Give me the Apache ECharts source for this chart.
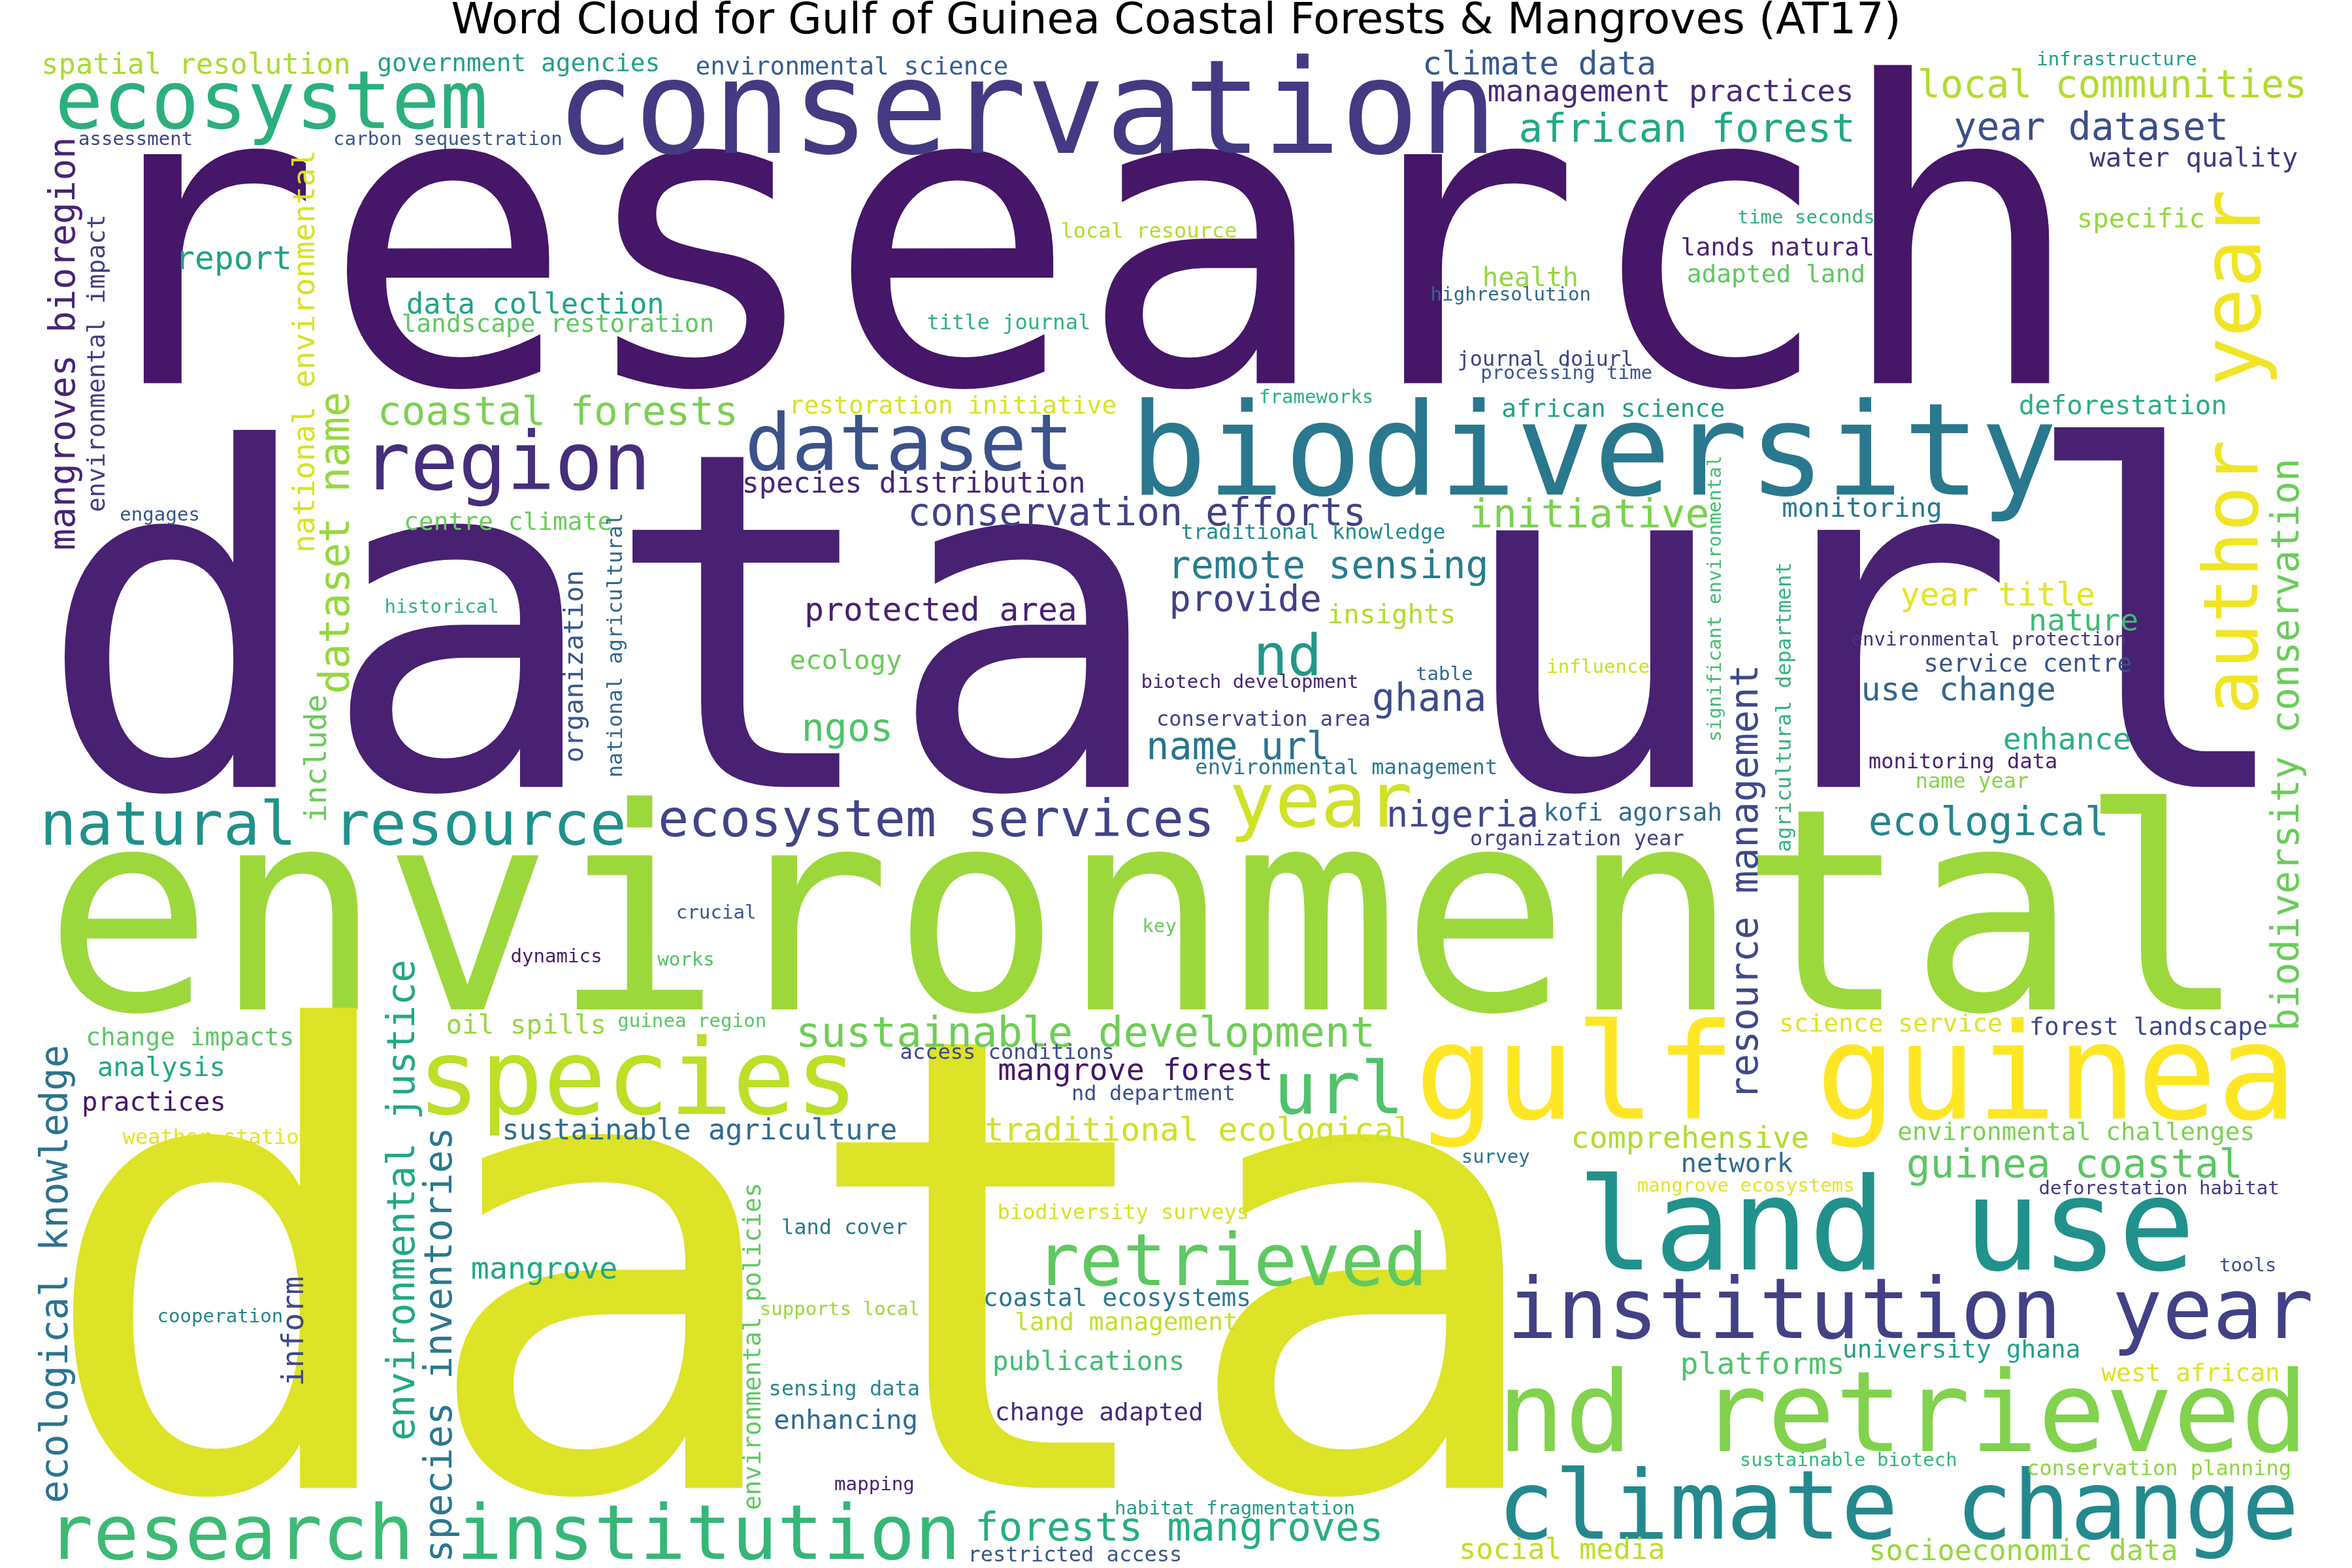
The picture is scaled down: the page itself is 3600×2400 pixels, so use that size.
<!DOCTYPE html>
<html>
<head>
<meta charset="utf-8">
<title>Word Cloud AT17</title>
<script src="https://cdn.jsdelivr.net/npm/echarts@6.0.0/dist/echarts.min.js"></script>
<style>
  html, body { margin: 0; padding: 0; background: #fff; overflow: hidden; }
  #chart { width: 3600px; height: 2400px; }
</style>
</head>
<body>
<div id="chart"></div>
<script>
// terms of the cloud
const words = [
  'research', 'data url', 'environmental', 'data', 'conservation', 'biodiversity', 'gulf guinea', 'land use', 'institution year', 'nd retrieved',
  'climate change', 'species', 'ecosystem', 'region', 'dataset', 'author', 'year', 'year', 'url', 'retrieved',
  'research', 'institution', 'natural resource', 'nd', 'ecosystem services', 'sustainable development', 'coastal forests', 'african forest', 'forests mangroves', 'guinea coastal',
  'ecological', 'dataset name', 'initiative', 'local communities', 'year dataset', 'remote sensing', 'ghana', 'ngos', 'name url', 'conservation efforts',
  'biodiversity conservation', 'resource management', 'environmental justice', 'ecological knowledge', 'species inventories', 'mangroves bioregion', 'provide', 'nigeria', 'year title', 'protected area',
  'report', 'use change', 'climate data', 'traditional ecological', 'nature', 'enhance', 'inform', 'mangrove', 'management practices', 'platforms',
  'comprehensive', 'mangrove forest', 'national environmental', 'include', 'spatial resolution', 'species distribution', 'data collection', 'socioeconomic data', 'social media', 'sustainable agriculture',
  'health', 'specific', 'monitoring', 'oil spills', 'enhancing', 'practices', 'water quality', 'insights', 'ecology', 'analysis',
  'deforestation', 'network', 'organization', 'publications', 'west african', 'centre climate', 'adapted land', 'lands natural', 'kofi agorsah', 'african science',
  'coastal ecosystems', 'change adapted', 'government agencies', 'environmental science', 'landscape restoration', 'restoration initiative', 'environmental challenges', 'university ghana', 'service centre', 'science service',
  'forest landscape', 'change impacts', 'land management', 'environmental impact', 'environmental policies', 'local resource', 'journal doiurl', 'conservation area', 'monitoring data', 'weather station',
  'access conditions', 'sensing data', 'traditional knowledge', 'environmental management', 'organization year', 'name year', 'nd department', 'biodiversity surveys', 'restricted access', 'conservation planning',
  'title journal', 'agricultural department', 'national agricultural', 'land cover', 'key', 'survey', 'works', 'mapping', 'assessment', 'historical',
  'table', 'carbon sequestration', 'highresolution', 'crucial', 'dynamics', 'guinea region', 'cooperation', 'habitat fragmentation', 'sustainable biotech', 'mangrove ecosystems',
  'infrastructure', 'engages', 'processing time', 'biotech development', 'deforestation habitat', 'environmental protection', 'frameworks', 'time seconds', 'tools', 'supports local',
  'significant environmental', 'influence'
];

// word centres on a 1560 x 1040 grid
const xPos = [
  715, 775, 760, 528, 681, 1057, 1231, 1251, 1267, 1262,
  1259, 423, 180, 336, 603, 1484, 1485, 876, 888, 817,
  153, 470, 221, 854, 621, 720, 370, 1119, 782, 1376,
  1319, 224, 1054, 1401, 1387, 881, 948, 562, 821, 754,
  1518, 1159, 268, 38, 293, 43, 826, 970, 1325, 624,
  155, 1299, 1021, 795, 1382, 1371, 196, 361, 1108, 1169,
  1121, 753, 203, 211, 130, 606, 355, 1342, 1036, 464,
  1015, 1420, 1235, 349, 561, 102, 1455, 923, 561, 107,
  1408, 1152, 382, 722, 1453, 337, 1178, 1179, 1083, 1070,
  741, 729, 344, 565, 370, 632, 1377, 1301, 1345, 1254,
  1425, 126, 747, 65, 500, 762, 1025, 838, 1302, 144,
  668, 560, 871, 893, 1046, 1308, 765, 745, 713, 1432,
  669, 1184, 409, 560, 769, 992, 455, 580, 90, 293,
  958, 297, 1002, 475, 369, 459, 146, 819, 1226, 1158,
  1404, 106, 1039, 829, 1432, 1319, 873, 1198, 1491, 557,
  1138, 1060
];
const yPos = [
  182, 441, 621, 878, 79, 306, 719, 820, 873, 943,
  1004, 721, 71, 311, 298, 383, 191, 535, 726, 840,
  1021, 1021, 550, 438, 546, 687, 275, 87, 1015, 774,
  547, 360, 343, 58, 86, 377, 465, 485, 497, 342,
  494, 585, 796, 845, 892, 228, 399, 542, 396, 406,
  173, 459, 44, 751, 413, 492, 883, 843, 62, 906,
  756, 711, 233, 503, 44, 322, 203, 1030, 1029, 751,
  185, 146, 338, 681, 943, 732, 106, 409, 439, 709,
  270, 773, 442, 904, 912, 347, 183, 165, 540, 272,
  862, 938, 43, 45, 216, 270, 752, 896, 441, 680,
  682, 689, 878, 241, 893, 154, 239, 478, 506, 755,
  699, 922, 354, 510, 557, 519, 726, 805, 1032, 975,
  215, 469, 428, 815, 615, 768, 637, 985, 93, 403,
  448, 93, 196, 606, 635, 678, 874, 1001, 969, 787,
  40, 342, 248, 453, 789, 425, 264, 145, 840, 869,
  397, 443
];
// relative weight of each term
const weight = [
  220, 247, 148, 332, 68.5, 67.5, 70, 67.5, 44, 59,
  50, 55, 42, 42, 41, 40, 43, 40, 38, 38,
  40, 40, 32, 30, 27, 22, 21, 21, 21, 21,
  21, 22, 21, 20, 20, 20, 20, 20, 20, 20,
  20, 20, 20, 20, 20, 19, 19, 19, 17, 17,
  17, 17, 17, 17, 16, 16, 16, 16, 16, 16,
  16, 16, 16, 16, 15, 15, 15, 15, 15, 15,
  14, 14, 14, 14, 14, 14, 14, 14, 14, 14,
  14, 14, 14, 14, 13, 13, 13, 13, 13, 13,
  13, 13, 13, 13, 13, 13, 13, 13, 13, 13,
  13, 13, 13, 13, 13, 11, 11, 11, 11, 11,
  11, 11, 11, 11, 11, 11, 11, 11, 11, 11,
  11, 11, 11, 11, 10, 10, 10, 10, 10, 10,
  10, 10, 10, 10, 10, 10, 10, 10, 10, 10,
  10, 10, 10, 10, 10, 10, 10, 10, 10, 10,
  10, 10
];
// 1 = written bottom to top
const upright = [
  0, 0, 0, 0, 0, 0, 0, 0, 0, 0,
  0, 0, 0, 0, 0, 1, 1, 0, 0, 0,
  0, 0, 0, 0, 0, 0, 0, 0, 0, 0,
  0, 1, 0, 0, 0, 0, 0, 0, 0, 0,
  1, 1, 1, 1, 1, 1, 0, 0, 0, 0,
  0, 0, 0, 0, 0, 0, 1, 0, 0, 0,
  0, 0, 1, 1, 0, 0, 0, 0, 0, 0,
  0, 0, 0, 0, 0, 0, 0, 0, 0, 0,
  0, 0, 1, 0, 0, 0, 0, 0, 0, 0,
  0, 0, 0, 0, 0, 0, 0, 0, 0, 0,
  0, 0, 0, 1, 1, 0, 0, 0, 0, 0,
  0, 0, 0, 0, 0, 0, 0, 0, 0, 0,
  0, 1, 1, 0, 0, 0, 0, 0, 0, 0,
  0, 0, 0, 0, 0, 0, 0, 0, 0, 0,
  0, 0, 0, 0, 0, 0, 0, 0, 0, 0,
  1, 0
];
// position on the viridis ramp
const tone = [
  0.06, 0.09, 0.85, 0.95, 0.17, 0.40, 1.00, 0.50, 0.19, 0.81,
  0.47, 0.90, 0.63, 0.13, 0.25, 0.98, 0.98, 0.93, 0.72, 0.75,
  0.68, 0.66, 0.50, 0.53, 0.20, 0.78, 0.80, 0.60, 0.62, 0.74,
  0.45, 0.84, 0.80, 0.88, 0.24, 0.42, 0.23, 0.72, 0.38, 0.19,
  0.77, 0.22, 0.60, 0.38, 0.40, 0.10, 0.19, 0.22, 0.96, 0.09,
  0.57, 0.33, 0.28, 0.93, 0.68, 0.63, 0.22, 0.59, 0.12, 0.72,
  0.88, 0.06, 0.94, 0.77, 0.87, 0.11, 0.58, 0.84, 0.90, 0.35,
  0.84, 0.84, 0.40, 0.84, 0.35, 0.06, 0.16, 0.88, 0.77, 0.60,
  0.63, 0.35, 0.27, 0.69, 0.95, 0.77, 0.75, 0.10, 0.35, 0.56,
  0.40, 0.12, 0.56, 0.30, 0.75, 0.94, 0.80, 0.56, 0.26, 0.95,
  0.22, 0.74, 0.91, 0.18, 0.75, 0.88, 0.20, 0.20, 0.09, 0.96,
  0.22, 0.45, 0.47, 0.40, 0.19, 0.82, 0.24, 0.94, 0.27, 0.83,
  0.64, 0.65, 0.33, 0.40, 0.77, 0.38, 0.72, 0.10, 0.20, 0.65,
  0.35, 0.28, 0.34, 0.27, 0.08, 0.74, 0.45, 0.55, 0.66, 0.96,
  0.56, 0.27, 0.27, 0.10, 0.17, 0.15, 0.63, 0.64, 0.24, 0.85,
  0.69, 0.92
];

// matplotlib viridis sampled every 0.1
const viridis = ['#440154', '#482475', '#414487', '#355f8d', '#2a788e', '#21918c',
                 '#22a884', '#44bf70', '#7ad151', '#bddf26', '#fde725'];
const PX = 2.913; // weight -> font pixels

const chart = echarts.init(document.getElementById('chart'), null, { renderer: 'canvas' });

const option = {
  backgroundColor: '#ffffff',
  animation: false,
  title: {
    text: 'Word Cloud for Gulf of Guinea Coastal Forests & Mangroves (AT17)',
    left: 'center',
    top: -4,
    textStyle: {
      fontFamily: 'DejaVu Sans',
      fontSize: 66.5,
      fontWeight: 'normal',
      color: '#000',
      lineHeight: 66
    }
  },
  grid: { left: 0, right: 0, top: 0, bottom: 0 },
  xAxis: { type: 'value', min: 0, max: 1560, show: false },
  yAxis: { type: 'value', min: 0, max: 1040, inverse: true, show: false },
  visualMap: {
    show: false,
    type: 'continuous',
    seriesIndex: 0,
    dimension: 3,
    min: 0,
    max: 1,
    inRange: { color: viridis }
  },
  series: [{
    type: 'scatter',
    silent: true,
    clip: false,
    symbolSize: 0,
    label: {
      show: true,
      position: 'inside',
      formatter: '{b}',
      color: 'inherit',
      opacity: 1,
      fontFamily: 'DejaVu Sans Mono',
      align: 'center',
      verticalAlign: 'middle'
    },
    data: words.map((w, i) => ({
      name: w,
      value: [xPos[i], yPos[i], weight[i], tone[i]],
      label: {
        fontSize: weight[i] * PX,
        rotate: upright[i] ? 90 : 0
      }
    }))
  }]
};

chart.setOption(option);
</script>
</body>
</html>
